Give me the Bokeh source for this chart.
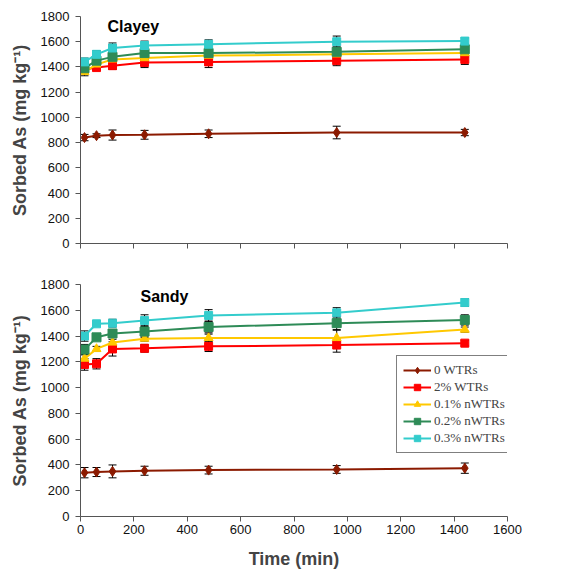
from bokeh.plotting import figure
from bokeh.layouts import column
from bokeh.models import ColumnDataSource, Whisker, TeeHead, Legend, LegendItem, Label, FixedTicker
from bokeh.embed import file_html
from bokeh.resources import INLINE

time_min = [15, 60, 120, 240, 480, 960, 1440]
series_names = ["0 WTRs", "2% WTRs", "0.1% nWTRs", "0.2% nWTRs", "0.3% nWTRs"]
x_ticks = [0, 200, 400, 600, 800, 1000, 1200, 1400, 1600]
y_ticks = [0, 200, 400, 600, 800, 1000, 1200, 1400, 1600, 1800]

clayey_0 = [840, 855, 860, 862, 870, 880, 880]
clayey_2 = [1380, 1395, 1410, 1435, 1440, 1450, 1460]
clayey_01 = [1360, 1420, 1460, 1470, 1490, 1500, 1510]
clayey_02 = [1390, 1450, 1480, 1510, 1510, 1520, 1540]
clayey_03 = [1440, 1500, 1550, 1570, 1580, 1600, 1605]
clayey_err_0 = [25, 15, 40, 35, 30, 50, 25]
clayey_err_2 = [30, 20, 30, 40, 45, 40, 40]
clayey_err_01 = [30, 20, 30, 30, 30, 30, 30]
clayey_err_02 = [40, 40, 40, 45, 40, 40, 40]
clayey_err_03 = [30, 30, 40, 35, 35, 45, 25]

sandy_0 = [340, 345, 350, 355, 360, 365, 375]
sandy_2 = [1180, 1185, 1300, 1305, 1320, 1330, 1345]
sandy_01 = [1225, 1300, 1350, 1380, 1385, 1385, 1450]
sandy_02 = [1295, 1390, 1420, 1435, 1470, 1500, 1525]
sandy_03 = [1400, 1495, 1500, 1520, 1560, 1580, 1660]
sandy_err_0 = [40, 35, 50, 35, 30, 30, 40]
sandy_err_2 = [45, 40, 55, 30, 40, 55, 20]
sandy_err_01 = [30, 20, 25, 20, 30, 60, 20]
sandy_err_02 = [40, 20, 30, 45, 45, 50, 40]
sandy_err_03 = [40, 20, 30, 45, 45, 40, 30]

colors = ["#8B1A00", "#FF0000", "#FFC800", "#2E8B57", "#33CCCC"]
markers = ["diamond", "square", "triangle", "square", "square"]
msizes = [10, 8, 9, 9, 8]

FONT = "Liberation Sans"


def make_panel(title, ys, errs, height, border_top, border_bottom, show_x_labels, legend):
    p = figure(width=546, height=height, output_backend="svg", toolbar_location=None,
               x_range=(0, 1600), y_range=(0, 1800),
               min_border_left=80, min_border_right=39,
               min_border_top=border_top, min_border_bottom=border_bottom)
    p.outline_line_color = None
    p.grid.visible = False
    p.xaxis.ticker = FixedTicker(ticks=x_ticks)
    p.yaxis.ticker = FixedTicker(ticks=y_ticks)
    for ax in (p.xaxis[0], p.yaxis[0]):
        ax.axis_line_color = "#555555"
        ax.major_tick_line_color = "#555555"
        ax.major_tick_out = 5
        ax.major_tick_in = 0
        ax.minor_tick_line_color = None
        ax.major_label_text_font = FONT
        ax.major_label_text_font_size = "13px"
        ax.major_label_text_color = "#111111"
    p.yaxis.axis_label = "Sorbed As (mg kg\u207b\u00b9)"
    p.yaxis.axis_label_text_font = FONT
    p.yaxis.axis_label_text_font_size = "18px"
    p.yaxis.axis_label_text_font_style = "bold"
    p.yaxis.axis_label_standoff = 8
    p.yaxis.major_label_standoff = 6
    if show_x_labels:
        p.xaxis.axis_label = "Time (min)"
        p.xaxis.axis_label_text_font = FONT
        p.xaxis.axis_label_text_font_size = "18px"
        p.xaxis.axis_label_text_font_style = "bold"
        p.xaxis.axis_label_standoff = 12
        p.xaxis.major_label_standoff = 3
    else:
        p.xaxis.major_label_overrides = {t: "" for t in x_ticks}
        p.xaxis.major_label_standoff = 0

    items = []
    for name, y, e, c, m, s in zip(series_names, ys, errs, colors, markers, msizes):
        src = ColumnDataSource(dict(x=time_min, y=y,
                                    lo=[a - b for a, b in zip(y, e)],
                                    hi=[a + b for a, b in zip(y, e)]))
        ln = p.line("x", "y", source=src, line_color=c, line_width=2)
        sc = p.scatter("x", "y", source=src, marker=m, size=s, fill_color=c, line_color=c)
        w = Whisker(source=src, base="x", lower="lo", upper="hi", line_color="black", line_width=1,
                    upper_head=TeeHead(size=8, line_color="black", line_width=1),
                    lower_head=TeeHead(size=8, line_color="black", line_width=1))
        p.add_layout(w)
        items.append(LegendItem(label=name, renderers=[ln, sc]))

    p.add_layout(Label(x=title[1], y=title[2], x_units="screen", y_units="screen", text=title[0],
                       text_font=FONT, text_font_size="16px", text_font_style="bold",
                       text_color="black", text_baseline="middle"))
    if legend:
        lg = Legend(items=items, location=(316, 63), border_line_color="black", border_line_width=1,
                    label_text_font="Liberation Serif", label_text_font_size="13px",
                    glyph_width=28, glyph_height=16, label_standoff=3, spacing=1,
                    padding=6, margin=0, label_height=16, background_fill_alpha=1)
        p.add_layout(lg, "center")
    return p


top = make_panel(("Clayey", 27, 217), [clayey_0, clayey_2, clayey_01, clayey_02, clayey_03],
                 [clayey_err_0, clayey_err_2, clayey_err_01, clayey_err_02, clayey_err_03],
                 269, 16, 26, False, False)
bottom = make_panel(("Sandy", 60, 220), [sandy_0, sandy_2, sandy_01, sandy_02, sandy_03],
                    [sandy_err_0, sandy_err_2, sandy_err_01, sandy_err_02, sandy_err_03],
                    302, 15, 48, True, True)

layout = column(top, bottom, spacing=0)
open("out.html", "w").write(file_html(layout, INLINE))
